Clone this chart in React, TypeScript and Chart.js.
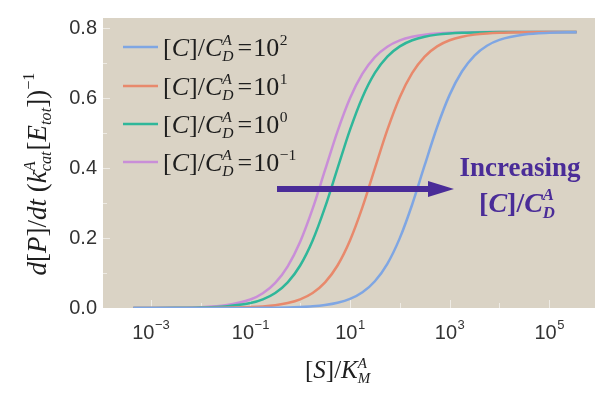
import { useEffect, useRef } from "react";
import { Chart, registerables } from "chart.js";
Chart.register(...registerables);

// ---- data ----
const SUBSTRATE = [4.47e-4, 1e-3, 3.16e-3, 0.01, 0.0316, 0.1, 0.178, 0.316, 0.562, 1, 1.78, 3.16, 5.62, 10, 17.8, 31.6, 56.2, 100, 178, 316, 562, 1000, 1780, 3160, 5620, 1e4, 3.16e4, 1e5, 3.55e5];
const RATE_C_1E2 = [0, 0, 0.00001, 0.00003, 0.00008, 0.00027, 0.00048, 0.00085, 0.0015, 0.0027, 0.0047, 0.0084, 0.0148, 0.0259, 0.0449, 0.0765, 0.1264, 0.2, 0.297, 0.4086, 0.5181, 0.61, 0.6775, 0.7226, 0.7506, 0.7674, 0.7827, 0.7877, 0.7893];
const RATE_C_1E1 = [0.00001, 0.00003, 0.00008, 0.00026, 0.0008, 0.0026, 0.0045, 0.008, 0.0141, 0.0248, 0.043, 0.0733, 0.1216, 0.1932, 0.2885, 0.3996, 0.5098, 0.6035, 0.673, 0.7197, 0.7489, 0.7663, 0.7765, 0.7824, 0.7857, 0.7876, 0.7892, 0.7898, 0.7899];
const RATE_C_1E0 = [0.00006, 0.00014, 0.00045, 0.0014, 0.0045, 0.0141, 0.0248, 0.043, 0.0733, 0.1216, 0.1932, 0.2885, 0.3996, 0.5098, 0.6035, 0.673, 0.7197, 0.7489, 0.7663, 0.7765, 0.7824, 0.7857, 0.7876, 0.7886, 0.7892, 0.7896, 0.7899, 0.79, 0.79];
const RATE_C_1EM1 = [0.0001, 0.00025, 0.0008, 0.0025, 0.0078, 0.0242, 0.0421, 0.0718, 0.1193, 0.1898, 0.2844, 0.395, 0.5057, 0.6002, 0.6707, 0.7182, 0.7479, 0.7658, 0.7762, 0.7822, 0.7856, 0.7875, 0.7886, 0.7892, 0.7896, 0.7898, 0.7899, 0.79, 0.79];
const SERIES_EXPONENTS = ["2", "1", "0", "\u22121"];
const SERIES_COLORS = ["#7fa6e3", "#e8896c", "#2fb79a", "#c98ed8"];
const X_TICK_EXPONENTS = [-3, -1, 1, 3, 5];
const X_TICK_LABELS = ["\u22123", "\u22121", "1", "3", "5"];
const Y_TICKS = [0, 0.2, 0.4, 0.6, 0.8];

const SERIF = '"Liberation Serif", "Times New Roman", serif';
const SANS = '"Liberation Sans", Arial, sans-serif';
const BG = "#dad3c5";
const ANNOT = "#4a2c98";
const TICK_COLOR = "#333333";

type Seg = { t?: string; it?: boolean; sc?: number; dy?: number; sup?: string; sub?: string; gap?: number };

function fnt(size: number, it?: boolean, bold?: boolean) {
  return `${it ? "italic " : ""}${bold ? "bold " : ""}${size}px ${SERIF}`;
}
function runWidth(ctx: CanvasRenderingContext2D, segs: Seg[], size: number, bold?: boolean) {
  let w = 0;
  for (const s of segs) {
    if (s.t !== undefined) {
      ctx.font = fnt(size * (s.sc ?? 1), s.it, bold);
      w += ctx.measureText(s.t).width + (s.gap ?? 0);
    } else {
      ctx.font = fnt(size * 0.6, true, bold);
      const a = s.sup ? ctx.measureText(s.sup).width : 0;
      const b = s.sub ? ctx.measureText(s.sub).width : 0;
      w += Math.max(a, b) + (s.gap ?? 0);
    }
  }
  return w;
}
function drawRun(ctx: CanvasRenderingContext2D, segs: Seg[], x: number, y: number, size: number, color: string, bold?: boolean) {
  ctx.fillStyle = color;
  ctx.textBaseline = "alphabetic";
  ctx.textAlign = "left";
  for (const s of segs) {
    if (s.t !== undefined) {
      ctx.font = fnt(size * (s.sc ?? 1), s.it, bold);
      ctx.fillText(s.t, x, y + (s.dy ?? 0) * size);
      x += ctx.measureText(s.t).width + (s.gap ?? 0);
    } else {
      ctx.font = fnt(size * 0.6, true, bold);
      let w = 0;
      if (s.sup) { ctx.fillText(s.sup, x, y - 0.42 * size); w = Math.max(w, ctx.measureText(s.sup).width); }
      if (s.sub) { ctx.fillText(s.sub, x, y + 0.2 * size); w = Math.max(w, ctx.measureText(s.sub).width); }
      x += w + (s.gap ?? 0);
    }
  }
  return x;
}

const ratioSegs = (exp?: string): Seg[] => {
  const base: Seg[] = [{ t: "[" }, { t: "C", it: true }, { t: "]/" }, { t: "C", it: true }, { sup: "A", sub: "D", gap: 4 }];
  if (exp === undefined) return base;
  return [...base, { t: "=", gap: 1 }, { t: "10", gap: 0.5 }, { t: exp, sc: 0.6, dy: -0.42 }];
};

const decor = {
  id: "decor",
  beforeDatasetsDraw(chart: any) {
    const { ctx, chartArea: a, scales } = chart;
    ctx.save();
    ctx.fillStyle = BG;
    ctx.fillRect(a.left, a.top, a.right - a.left, a.bottom - a.top);
    ctx.strokeStyle = "rgba(255,255,255,0.55)";
    ctx.lineWidth = 1;
    for (let v = 0; v <= 0.8001; v += 0.1) {
      const y = Math.round(scales.y.getPixelForValue(v)) + 0.5;
      ctx.beginPath(); ctx.moveTo(a.left, y); ctx.lineTo(a.left + (Math.abs(v * 5 - Math.round(v * 5)) < 0.01 ? 7 : 4), y); ctx.stroke();
    }
    for (let e = -3; e <= 5; e++) {
      const x = Math.round(scales.x.getPixelForValue(Math.pow(10, e))) + 0.5;
      ctx.beginPath(); ctx.moveTo(x, a.bottom); ctx.lineTo(x, a.bottom - (e % 2 !== 0 ? 8 : 5)); ctx.stroke();
    }
    ctx.restore();
  },
  afterDraw(chart: any) {
    const { ctx, chartArea: a, scales } = chart;
    ctx.save();
    // x tick labels
    X_TICK_EXPONENTS.forEach((e, i) => {
      const px = scales.x.getPixelForValue(Math.pow(10, e));
      ctx.font = `20px ${SANS}`;
      const w1 = ctx.measureText("10").width;
      ctx.font = `13px ${SANS}`;
      const w2 = ctx.measureText(X_TICK_LABELS[i]).width;
      const x0 = px - (w1 + w2) / 2;
      ctx.fillStyle = TICK_COLOR;
      ctx.textAlign = "left";
      ctx.textBaseline = "alphabetic";
      ctx.font = `20px ${SANS}`;
      ctx.fillText("10", x0, a.bottom + 31);
      ctx.font = `13px ${SANS}`;
      ctx.fillText(X_TICK_LABELS[i], x0 + w1 + 0.5, a.bottom + 21);
    });
    // legend
    const rowsY = [47, 86, 124, 162];
    SERIES_EXPONENTS.forEach((exp, i) => {
      const y = rowsY[i];
      ctx.strokeStyle = SERIES_COLORS[i];
      ctx.lineWidth = 2.5;
      ctx.beginPath(); ctx.moveTo(123, y); ctx.lineTo(158, y); ctx.stroke();
      drawRun(ctx, ratioSegs(exp), 163, y + 9, 26, "#1e1e1e");
    });
    // y title
    const ySegs: Seg[] = [
      { t: "d", it: true }, { t: "[" }, { t: "P", it: true }, { t: "]/" }, { t: "dt", it: true }, { t: " (" },
      { t: "k", it: true }, { sup: "A", sub: "cat", gap: 1 }, { t: "[" }, { t: "E", it: true },
      { t: "tot", it: true, sc: 0.6, dy: 0.2 }, { t: "])" }, { t: "\u22121", sc: 0.6, dy: -0.45 },
    ];
    const yw = runWidth(ctx, ySegs, 27);
    ctx.save();
    ctx.translate(46, 174);
    ctx.rotate(-Math.PI / 2);
    drawRun(ctx, ySegs, -yw / 2, 0, 27, "#1e1e1e");
    ctx.restore();
    // x title
    const xSegs: Seg[] = [{ t: "[" }, { t: "S", it: true }, { t: "]/" }, { t: "K", it: true }, { sup: "A", sub: "M" }];
    drawRun(ctx, xSegs, 305, 378, 25, "#1e1e1e");
    // annotation arrow
    ctx.fillStyle = ANNOT;
    ctx.fillRect(277, 186, 430 - 277, 6);
    ctx.beginPath(); ctx.moveTo(428, 181); ctx.lineTo(454, 189); ctx.lineTo(428, 197); ctx.closePath(); ctx.fill();
    ctx.font = fnt(27, false, true);
    const iw = ctx.measureText("Increasing").width;
    ctx.textAlign = "left";
    ctx.fillText("Increasing", 520 - iw / 2, 176);
    const rs = ratioSegs();
    const rw = runWidth(ctx, rs, 28, true);
    drawRun(ctx, rs, 519 - rw / 2, 212, 28, ANNOT, true);
    ctx.restore();
  },
};

export default function App() {
  const ref = useRef<HTMLCanvasElement>(null);
  useEffect(() => {
    document.body.style.margin = "0";
    const series = [RATE_C_1E2, RATE_C_1E1, RATE_C_1E0, RATE_C_1EM1];
    const chart = new Chart(ref.current!, {
      type: "line",
      data: {
        datasets: series.map((vals, i) => ({
          label: `[C]/C_D^A = 10^${SERIES_EXPONENTS[i]}`,
          data: SUBSTRATE.map((s, j) => ({ x: s, y: vals[j] })),
          borderColor: SERIES_COLORS[i],
          borderWidth: 2.5,
          pointRadius: 0,
          cubicInterpolationMode: "monotone" as const,
          fill: false,
        })),
      },
      options: {
        animation: false,
        responsive: false,
        devicePixelRatio: 1,
        layout: { padding: { left: 0, right: 7, top: 6, bottom: 0 } },
        plugins: { legend: { display: false }, tooltip: { enabled: false } },
        scales: {
          x: {
            type: "logarithmic",
            min: 1.1e-4,
            max: 8.3e5,
            grid: { display: false, drawTicks: false },
            border: { display: false },
            ticks: { display: false },
            afterFit: (s: any) => { s.height = 98; },
          },
          y: {
            type: "linear",
            min: 0,
            max: 0.83,
            grid: { display: false, drawTicks: false },
            border: { display: false },
            afterBuildTicks: (s: any) => { s.ticks = Y_TICKS.map((v) => ({ value: v })); },
            ticks: {
              padding: 6,
              color: TICK_COLOR,
              font: { size: 20, family: SANS },
              callback: (v: any) => Number(v).toFixed(1),
            },
            afterFit: (s: any) => { s.width = 103; },
          },
        },
      } as any,
      plugins: [decor],
    });
    return () => chart.destroy();
  }, []);
  return (
    <div style={{ width: 602, height: 406, background: "#fff" }}>
      <canvas ref={ref} width={602} height={406} style={{ display: "block" }} />
    </div>
  );
}
